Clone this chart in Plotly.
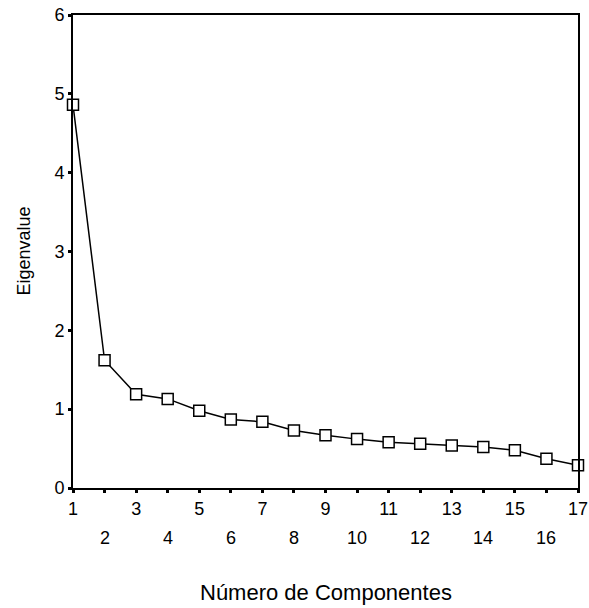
import plotly.graph_objects as go

components = list(range(1, 18))
eigenvalues = [4.86, 1.62, 1.19, 1.13, 0.98, 0.87, 0.84, 0.73, 0.67, 0.62,
               0.58, 0.56, 0.54, 0.52, 0.48, 0.37, 0.29]
y_ticks = [0, 1, 2, 3, 4, 5, 6]
x_title = "Número de Componentes"
y_title = "Eigenvalue"

FONT = "Liberation Sans, Arial, sans-serif"

fig = go.Figure()
fig.add_trace(go.Scatter(
    x=components, y=eigenvalues, mode="lines+markers",
    line=dict(color="black", width=1.5),
    marker=dict(symbol="square", size=11, color="white",
                line=dict(color="black", width=1.5)),
    cliponaxis=False, showlegend=False, hoverinfo="skip",
))

odd_text = [str(c) if c % 2 == 1 else "" for c in components]

fig.update_layout(
    width=589, height=608,
    margin=dict(l=73, r=11, t=15, b=120),
    paper_bgcolor="white", plot_bgcolor="white",
    font=dict(family=FONT, size=18, color="black"),
    xaxis=dict(
        range=[1, 17], tickvals=components, ticktext=odd_text,
        showline=True, linecolor="black", linewidth=2, mirror=True,
        ticks="outside", ticklen=3, tickwidth=3, tickcolor="black",
        showgrid=False, zeroline=False, automargin=False,
        tickfont=dict(size=18),
    ),
    yaxis=dict(
        range=[0, 6], tickvals=y_ticks,
        showline=True, linecolor="black", linewidth=2, mirror=True,
        ticks="outside", ticklen=3, tickwidth=3, tickcolor="black",
        showgrid=False, zeroline=False, automargin=False,
        tickfont=dict(size=18),
    ),
)

for c in components:
    if c % 2 == 0:
        fig.add_annotation(x=c, y=0, xref="x", yref="paper", text=str(c),
                           showarrow=False, yanchor="middle", yshift=-50,
                           font=dict(size=18, family=FONT))

fig.add_annotation(x=0.5, y=0, xref="paper", yref="paper", text=x_title,
                   showarrow=False, yanchor="middle", yshift=-104,
                   font=dict(size=22, family=FONT))

fig.add_annotation(x=0, y=0.5, xref="paper", yref="paper", text=y_title,
                   showarrow=False, xanchor="center", yanchor="middle",
                   xshift=-50, textangle=-90,
                   font=dict(size=18, family=FONT))

fig.write_html("out.html",
               config={"displayModeBar": False, "staticPlot": True},
               post_script="document.body.style.margin='0';"
                           "document.body.style.overflow='hidden';")
